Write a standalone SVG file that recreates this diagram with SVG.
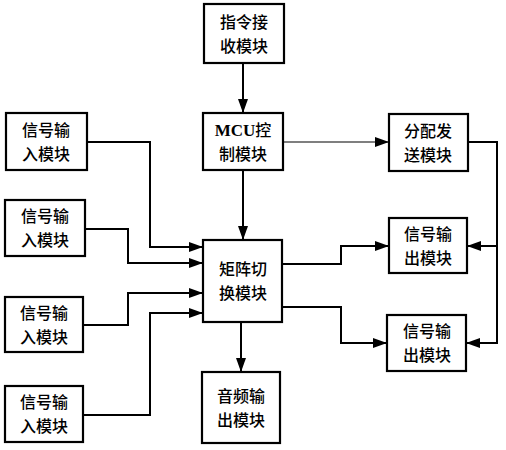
<svg xmlns="http://www.w3.org/2000/svg" width="506" height="450" viewBox="0 0 506 450">
<style>
rect{fill:#fff;stroke:#000;stroke-width:2.2}
text{font-family:"Noto Sans CJK SC","Noto Sans",sans-serif;font-size:16px;fill:#000;text-anchor:middle;font-weight:500}
.en{font-family:"Liberation Serif",serif;font-weight:bold}
.c{fill:none;stroke:#000;stroke-width:2}
.t{fill:none;stroke:#000;stroke-width:1.2}
</style>
<defs>
<marker id="a" markerUnits="userSpaceOnUse" markerWidth="14" markerHeight="10" refX="13" refY="5" orient="auto"><path d="M0,0L14,5L0,10z" fill="#000"/></marker>
</defs>
<g id="connectors">
<path class="c" d="M243,63V112" marker-end="url(#a)"/>
<path class="c" d="M243,170V239" marker-end="url(#a)"/>
<path class="t" d="M283,142H388" marker-end="url(#a)"/>
<path class="c" d="M468,142H497V343H467" marker-end="url(#a)"/>
<path class="c" d="M497,246H468" marker-end="url(#a)"/>
<path class="c" d="M282,264H341V246H388" marker-end="url(#a)"/>
<path class="c" d="M282,307H341V343H386" marker-end="url(#a)"/>
<path class="c" d="M241,322V371" marker-end="url(#a)"/>
<path class="c" d="M87,142H150V247H202" marker-end="url(#a)"/>
<path class="c" d="M85,229H128V263H202" marker-end="url(#a)"/>
<path class="c" d="M83,325H128V293H202" marker-end="url(#a)"/>
<path class="c" d="M83,415H150V313H202" marker-end="url(#a)"/>
</g>
<g id="cmd"><rect x="204" y="4" width="80" height="59"/><text x="244" y="28"><tspan x="244">指令接</tspan><tspan x="244" dy="23.5">收模块</tspan></text></g>
<g id="mcu"><rect x="203" y="113" width="80" height="57"/><text x="243" y="136"><tspan class="en" font-size="17">MCU</tspan>控<tspan x="243" dy="23.5">制模块</tspan></text></g>
<g id="dist"><rect x="389" y="114" width="79" height="57"/><text x="428" y="137"><tspan x="428">分配发</tspan><tspan x="428" dy="23.5">送模块</tspan></text></g>
<g id="matrix"><rect x="203" y="240" width="79" height="82"/><text x="243" y="275"><tspan x="243">矩阵切</tspan><tspan x="243" dy="23.5">换模块</tspan></text></g>
<g id="out1"><rect x="389" y="218" width="78" height="55"/><text x="428" y="240"><tspan x="428">信号输</tspan><tspan x="428" dy="23.5">出模块</tspan></text></g>
<g id="out2"><rect x="387" y="315" width="79" height="56"/><text x="427" y="337"><tspan x="427">信号输</tspan><tspan x="427" dy="23.5">出模块</tspan></text></g>
<g id="audio"><rect x="202" y="372" width="78" height="71"/><text x="241" y="402"><tspan x="241">音频输</tspan><tspan x="241" dy="23.5">出模块</tspan></text></g>
<g id="in1"><rect x="6" y="113" width="81" height="57"/><text x="46" y="136"><tspan x="46">信号输</tspan><tspan x="46" dy="23.5">入模块</tspan></text></g>
<g id="in2"><rect x="5" y="200" width="80" height="56"/><text x="45" y="222"><tspan x="45">信号输</tspan><tspan x="45" dy="23.5">入模块</tspan></text></g>
<g id="in3"><rect x="5" y="297" width="78" height="55"/><text x="44" y="319"><tspan x="44">信号输</tspan><tspan x="44" dy="23.5">入模块</tspan></text></g>
<g id="in4"><rect x="5" y="386" width="78" height="56"/><text x="44" y="408"><tspan x="44">信号输</tspan><tspan x="44" dy="23.5">入模块</tspan></text></g>
</svg>
